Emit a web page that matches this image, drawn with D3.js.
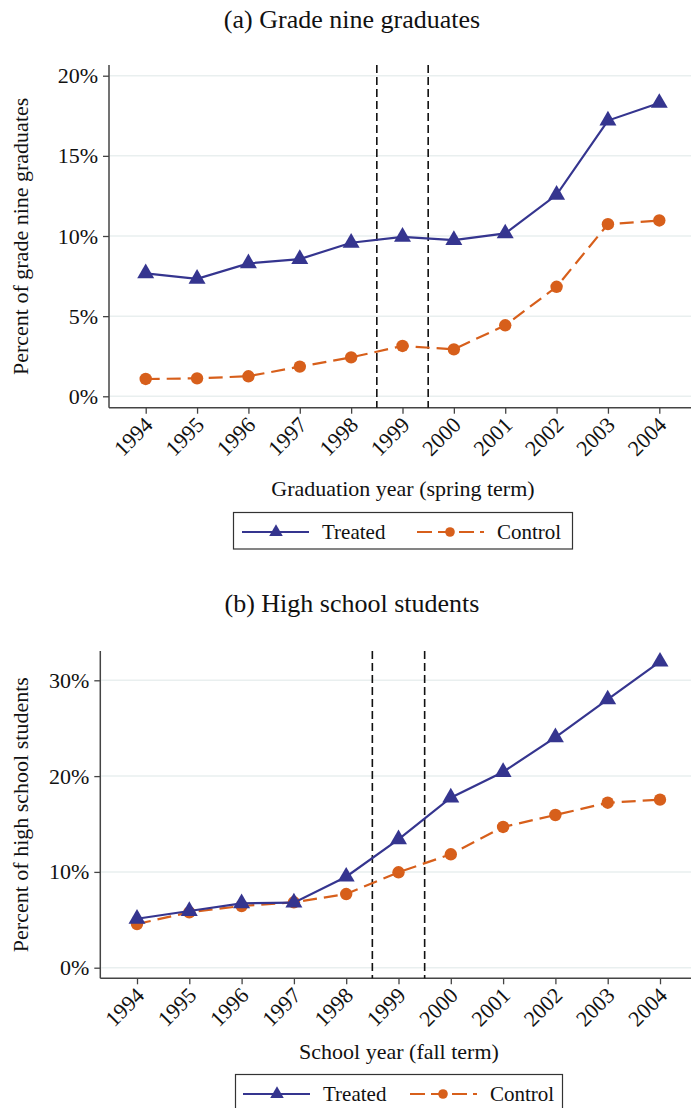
<!DOCTYPE html>
<html>
<head>
<meta charset="utf-8">
<script src="https://cdn.jsdelivr.net/npm/d3@7"></script>
<style>
  html, body { margin: 0; padding: 0; background: #fff; }
  svg { display: block; font-family: "Liberation Serif", "Times New Roman", serif; }
</style>
</head>
<body>
<svg id="chart" width="691" height="1108"></svg>
<script>
// Years on the horizontal axis
const years = [1994, 1995, 1996, 1997, 1998, 1999, 2000, 2001, 2002, 2003, 2004];

// Panel (a): share of grade nine graduates (%)
const gradTreated = [7.67, 7.33, 8.29, 8.56, 9.58, 9.95, 9.74, 10.16, 12.57, 17.2, 18.3];
const gradControl = [1.08, 1.12, 1.25, 1.85, 2.43, 3.14, 2.93, 4.43, 6.83, 10.74, 10.97];

// Panel (b): share of high school students (%)
const hsTreated = [5.11, 5.92, 6.72, 6.79, 9.5, 13.4, 17.75, 20.43, 24.05, 28.0, 31.94];
const hsControl = [4.56, 5.78, 6.44, 6.83, 7.69, 9.96, 11.84, 14.69, 15.94, 17.22, 17.54];

// Y-axis ticks
const gradTicks = [0, 5, 10, 15, 20];
const hsTicks = [0, 10, 20, 30];

// Reform window marked by the dashed lines
const reformLines = [1998.5, 1999.5];

const seriesNames = ["Treated", "Control"];

const colTreated = "#35358f";
const colControl = "#d75f1b";
const axisColor = "#444";
const gridColor = "#e9efef";

const svg = d3.select("#chart");

function panel(cfg) {
  const g = svg.append("g");
  const x = d3.scaleLinear().domain([1994, 2004]).range([cfg.x0, cfg.x1]);
  const y = d3.scaleLinear().domain([0, cfg.ymaxTick]).range([cfg.y0, cfg.yTop]);

  // Title
  g.append("text")
    .attr("x", cfg.titleX).attr("y", cfg.titleY)
    .attr("text-anchor", "middle")
    .attr("font-size", 26)
    .attr("fill", "#111")
    .text(cfg.title);

  // Gridlines
  g.append("g").selectAll("line").data(cfg.ticks).join("line")
    .attr("x1", cfg.axisX + 1).attr("x2", cfg.right)
    .attr("y1", d => y(d)).attr("y2", d => y(d))
    .attr("stroke", gridColor).attr("stroke-width", 1.5);

  // Y axis
  const yAxis = d3.axisLeft(y).tickValues(cfg.ticks).tickSize(6).tickPadding(5)
    .tickFormat(d => d + "%");
  const ya = g.append("g").attr("transform", `translate(${cfg.axisX},0)`).call(yAxis);
  ya.attr("font-family", null);
  ya.select(".domain").remove();
  ya.selectAll(".tick line").attr("stroke", axisColor).attr("stroke-width", 1.3);
  ya.selectAll(".tick text").attr("font-size", 22).attr("fill", "#111");
  g.append("line")
    .attr("x1", cfg.axisX).attr("x2", cfg.axisX)
    .attr("y1", cfg.plotTop).attr("y2", cfg.axisY)
    .attr("stroke", axisColor).attr("stroke-width", 1.5);

  // X axis
  const xAxis = d3.axisBottom(x).tickValues(years).tickSize(6).tickFormat("");
  const xa = g.append("g").attr("transform", `translate(0,${cfg.axisY})`).call(xAxis);
  xa.select(".domain").remove();
  xa.selectAll(".tick line").attr("stroke", axisColor).attr("stroke-width", 1.3);
  g.append("line")
    .attr("x1", cfg.axisX).attr("x2", cfg.right)
    .attr("y1", cfg.axisY).attr("y2", cfg.axisY)
    .attr("stroke", axisColor).attr("stroke-width", 1.5);

  g.append("g").selectAll("text").data(years).join("text")
    .attr("transform", d => `translate(${x(d) + 3},${cfg.axisY + 13}) rotate(-45)`)
    .attr("text-anchor", "end")
    .attr("dy", "0.35em")
    .attr("font-size", 22)
    .attr("fill", "#111")
    .text(d => d);

  // Axis titles
  g.append("text")
    .attr("transform", `translate(${cfg.yTitleX},${(cfg.plotTop + cfg.axisY) / 2}) rotate(-90)`)
    .attr("text-anchor", "middle")
    .attr("dy", "0.35em")
    .attr("font-size", 22)
    .attr("fill", "#111")
    .text(cfg.yTitle);
  g.append("text")
    .attr("x", cfg.xTitleX).attr("y", cfg.xTitleY)
    .attr("text-anchor", "middle")
    .attr("font-size", 22)
    .attr("fill", "#111")
    .text(cfg.xTitle);

  // Reform window
  g.append("g").selectAll("line").data(reformLines).join("line")
    .attr("x1", d => x(d)).attr("x2", d => x(d))
    .attr("y1", cfg.plotTop).attr("y2", cfg.axisY)
    .attr("stroke", "#111").attr("stroke-width", 1.6)
    .attr("stroke-dasharray", "8,4");

  const line = d3.line().x((d, i) => x(years[i])).y(d => y(d));

  // Control series
  g.append("path").datum(cfg.control)
    .attr("d", line).attr("fill", "none")
    .attr("stroke", colControl).attr("stroke-width", 2.2)
    .attr("stroke-dasharray", "14,7");
  g.append("g").selectAll("circle").data(cfg.control).join("circle")
    .attr("cx", (d, i) => x(years[i])).attr("cy", d => y(d))
    .attr("r", 6.2).attr("fill", colControl);

  // Treated series
  g.append("path").datum(cfg.treated)
    .attr("d", line).attr("fill", "none")
    .attr("stroke", colTreated).attr("stroke-width", 2.2);
  const tri = d3.symbol().type(d3.symbolTriangle).size(125);
  g.append("g").selectAll("path").data(cfg.treated).join("path")
    .attr("d", tri)
    .attr("transform", (d, i) => `translate(${x(years[i])},${y(d)})`)
    .attr("fill", colTreated);

  // Legend
  const lg = g.append("g");
  lg.append("rect")
    .attr("x", cfg.leg.x).attr("y", cfg.leg.y)
    .attr("width", cfg.leg.w).attr("height", cfg.leg.h)
    .attr("fill", "#fff").attr("stroke", "#333").attr("stroke-width", 1.2);
  const ly = cfg.leg.y + 19.5;
  // Treated key
  lg.append("line")
    .attr("x1", cfg.leg.t0).attr("x2", cfg.leg.t0 + 67)
    .attr("y1", ly).attr("y2", ly)
    .attr("stroke", colTreated).attr("stroke-width", 2.2);
  lg.append("path").attr("d", d3.symbol().type(d3.symbolTriangle).size(80))
    .attr("transform", `translate(${cfg.leg.t0 + 34},${ly})`)
    .attr("fill", colTreated);
  lg.append("text").attr("x", cfg.leg.t0 + 80).attr("y", ly).attr("dy", "0.35em")
    .attr("font-size", 21).attr("fill", "#111").text(seriesNames[0]);
  // Control key
  lg.append("line")
    .attr("x1", cfg.leg.c0).attr("x2", cfg.leg.c0 + 67)
    .attr("y1", ly).attr("y2", ly)
    .attr("stroke", colControl).attr("stroke-width", 2.2)
    .attr("stroke-dasharray", "15,6");
  lg.append("circle").attr("cx", cfg.leg.c0 + 33).attr("cy", ly).attr("r", 4.8)
    .attr("fill", colControl);
  lg.append("text").attr("x", cfg.leg.c0 + 80).attr("y", ly).attr("dy", "0.35em")
    .attr("font-size", 21).attr("fill", "#111").text(seriesNames[1]);
}

panel({
  title: "(a) Grade nine graduates", titleX: 352, titleY: 28,
  x0: 145.7, x1: 659.3, axisX: 109, right: 691,
  plotTop: 65, axisY: 407.7, y0: 396.3, yTop: 75.7, ymaxTick: 20,
  ticks: gradTicks,
  treated: gradTreated, control: gradControl,
  yTitle: "Percent of grade nine graduates", yTitleX: 20,
  xTitle: "Graduation year (spring term)", xTitleX: 403, xTitleY: 496,
  leg: { x: 233.5, y: 512.5, w: 339, h: 36.5, t0: 242, c0: 417 }
});

panel({
  title: "(b) High school students", titleX: 352, titleY: 612,
  x0: 137, x1: 660, axisX: 100.3, right: 691,
  plotTop: 651, axisY: 978.3, y0: 967.7, yTop: 680.3, ymaxTick: 30,
  ticks: hsTicks,
  treated: hsTreated, control: hsControl,
  yTitle: "Percent of high school students", yTitleX: 20,
  xTitle: "School year (fall term)", xTitleX: 399, xTitleY: 1059,
  leg: { x: 235.5, y: 1074.5, w: 327, h: 36.5, t0: 243, c0: 410 }
});
</script>
</body>
</html>
